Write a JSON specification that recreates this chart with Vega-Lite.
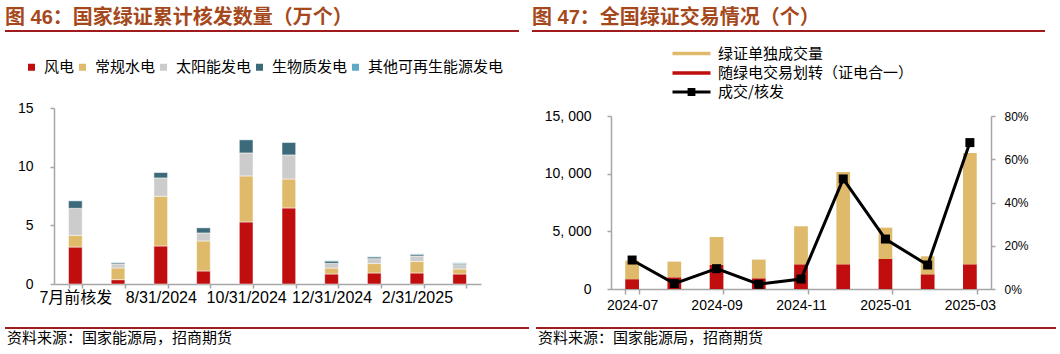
{
  "$schema": "https://vega.github.io/schema/vega-lite/v6.json",
  "padding": {"left": 5, "top": 7, "right": 0, "bottom": 0},
  "config": {
    "view": {"stroke": null},
    "axis": {"domainColor": "#A6A6A6", "tickColor": "#A6A6A6", "domainWidth": 1.5, "tickWidth": 1.5, "labelColor": "#000000", "labelFont": "Liberation Sans, Noto Sans CJK SC", "grid": false, "titleColor": "#000000"},
    "legend": {"labelFont": "Noto Sans CJK SC", "labelFontSize": 15, "labelColor": "#000000", "padding": 0, "labelLimit": 400}
  },
  "datasets": {
    "left": [
      {"date": "7月前核发", "type": "风电", "value": 3.15},
      {"date": "7月前核发", "type": "常规水电", "value": 1.0},
      {"date": "7月前核发", "type": "太阳能发电", "value": 2.3},
      {"date": "7月前核发", "type": "生物质发电", "value": 0.65},
      {"date": "7月前核发", "type": "其他可再生能源发电", "value": 0.02},
      {"date": "7/31/2024", "type": "风电", "value": 0.37},
      {"date": "7/31/2024", "type": "常规水电", "value": 1.0},
      {"date": "7/31/2024", "type": "太阳能发电", "value": 0.34},
      {"date": "7/31/2024", "type": "生物质发电", "value": 0.1},
      {"date": "7/31/2024", "type": "其他可再生能源发电", "value": 0.04},
      {"date": "8/31/2024", "type": "风电", "value": 3.24},
      {"date": "8/31/2024", "type": "常规水电", "value": 4.24},
      {"date": "8/31/2024", "type": "太阳能发电", "value": 1.56},
      {"date": "8/31/2024", "type": "生物质发电", "value": 0.48},
      {"date": "8/31/2024", "type": "其他可再生能源发电", "value": 0.02},
      {"date": "9/30/2024", "type": "风电", "value": 1.11},
      {"date": "9/30/2024", "type": "常规水电", "value": 2.56},
      {"date": "9/30/2024", "type": "太阳能发电", "value": 0.68},
      {"date": "9/30/2024", "type": "生物质发电", "value": 0.45},
      {"date": "9/30/2024", "type": "其他可再生能源发电", "value": 0.02},
      {"date": "10/31/2024", "type": "风电", "value": 5.29},
      {"date": "10/31/2024", "type": "常规水电", "value": 3.92},
      {"date": "10/31/2024", "type": "太阳能发电", "value": 1.96},
      {"date": "10/31/2024", "type": "生物质发电", "value": 1.13},
      {"date": "10/31/2024", "type": "其他可再生能源发电", "value": 0.02},
      {"date": "11/30/2024", "type": "风电", "value": 6.48},
      {"date": "11/30/2024", "type": "常规水电", "value": 2.47},
      {"date": "11/30/2024", "type": "太阳能发电", "value": 2.05},
      {"date": "11/30/2024", "type": "生物质发电", "value": 1.08},
      {"date": "11/30/2024", "type": "其他可再生能源发电", "value": 0.02},
      {"date": "12/31/2024", "type": "风电", "value": 0.85},
      {"date": "12/31/2024", "type": "常规水电", "value": 0.51},
      {"date": "12/31/2024", "type": "太阳能发电", "value": 0.4},
      {"date": "12/31/2024", "type": "生物质发电", "value": 0.2},
      {"date": "12/31/2024", "type": "其他可再生能源发电", "value": 0.03},
      {"date": "1/31/2025", "type": "风电", "value": 0.94},
      {"date": "1/31/2025", "type": "常规水电", "value": 0.8},
      {"date": "1/31/2025", "type": "太阳能发电", "value": 0.42},
      {"date": "1/31/2025", "type": "生物质发电", "value": 0.15},
      {"date": "1/31/2025", "type": "其他可再生能源发电", "value": 0.03},
      {"date": "2/31/2025", "type": "风电", "value": 0.94},
      {"date": "2/31/2025", "type": "常规水电", "value": 0.99},
      {"date": "2/31/2025", "type": "太阳能发电", "value": 0.46},
      {"date": "2/31/2025", "type": "生物质发电", "value": 0.15},
      {"date": "2/31/2025", "type": "其他可再生能源发电", "value": 0.03},
      {"date": "3/31/2025", "type": "风电", "value": 0.85},
      {"date": "3/31/2025", "type": "常规水电", "value": 0.43},
      {"date": "3/31/2025", "type": "太阳能发电", "value": 0.37},
      {"date": "3/31/2025", "type": "生物质发电", "value": 0.11},
      {"date": "3/31/2025", "type": "其他可再生能源发电", "value": 0.05}
    ],
    "rightBars": [
      {"month": "2024-07", "type": "随绿电交易划转（证电合一）", "value": 850},
      {"month": "2024-07", "type": "绿证单独成交量", "value": 1610},
      {"month": "2024-08", "type": "随绿电交易划转（证电合一）", "value": 1015},
      {"month": "2024-08", "type": "绿证单独成交量", "value": 1360},
      {"month": "2024-09", "type": "随绿电交易划转（证电合一）", "value": 2080},
      {"month": "2024-09", "type": "绿证单独成交量", "value": 2430},
      {"month": "2024-10", "type": "随绿电交易划转（证电合一）", "value": 930},
      {"month": "2024-10", "type": "绿证单独成交量", "value": 1620},
      {"month": "2024-11", "type": "随绿电交易划转（证电合一）", "value": 2140},
      {"month": "2024-11", "type": "绿证单独成交量", "value": 3300},
      {"month": "2024-12", "type": "随绿电交易划转（证电合一）", "value": 2140},
      {"month": "2024-12", "type": "绿证单独成交量", "value": 8005},
      {"month": "2025-01", "type": "随绿电交易划转（证电合一）", "value": 2600},
      {"month": "2025-01", "type": "绿证单独成交量", "value": 2720},
      {"month": "2025-02", "type": "随绿电交易划转（证电合一）", "value": 1275},
      {"month": "2025-02", "type": "绿证单独成交量", "value": 1560},
      {"month": "2025-03", "type": "随绿电交易划转（证电合一）", "value": 2140},
      {"month": "2025-03", "type": "绿证单独成交量", "value": 9650}
    ],
    "rightRatio": [
      {"month": "2024-07", "ratio": 0.134},
      {"month": "2024-08", "ratio": 0.025},
      {"month": "2024-09", "ratio": 0.094},
      {"month": "2024-10", "ratio": 0.022},
      {"month": "2024-11", "ratio": 0.046},
      {"month": "2024-12", "ratio": 0.509},
      {"month": "2025-01", "ratio": 0.231},
      {"month": "2025-02", "ratio": 0.111},
      {"month": "2025-03", "ratio": 0.677}
    ]
  },
  "spacing": 0,
  "resolve": {"scale": {"color": "independent"}, "legend": {"color": "independent"}},
  "vconcat": [
    {
      "spacing": 13,
      "hconcat": [
        {
          "data": {"values": [{}]},
          "width": 514, "height": 2,
          "view": {"fill": "#A01C1C", "stroke": null},
          "title": {"text": "图 46：国家绿证累计核发数量（万个）", "anchor": "start", "orient": "top", "offset": 2.3, "font": "Liberation Sans, Noto Sans CJK SC", "fontSize": 20, "fontWeight": "bold", "color": "#A5481C"},
          "mark": {"type": "point", "opacity": 0, "size": 0, "filled": true, "strokeWidth": 0},
          "encoding": {}
        },
        {
          "data": {"values": [{}]},
          "width": 513, "height": 2,
          "view": {"fill": "#A01C1C", "stroke": null},
          "title": {"text": "图 47：全国绿证交易情况（个）", "anchor": "start", "orient": "top", "offset": 2.3, "font": "Liberation Sans, Noto Sans CJK SC", "fontSize": 20, "fontWeight": "bold", "color": "#A5481C"},
          "mark": {"type": "point", "opacity": 0, "size": 0, "filled": true, "strokeWidth": 0},
          "encoding": {}
        }
      ]
    },
    {
      "spacing": 0,
      "resolve": {"scale": {"color": "independent"}, "legend": {"color": "independent"}},
      "hconcat": [
        {
          "data": {"values": [{}]},
          "width": 1, "height": 1,
          "mark": {"type": "point", "opacity": 0, "size": 0, "filled": true, "strokeWidth": 0},
          "encoding": {}
        },
        {
          "spacing": 0,
          "resolve": {"scale": {"color": "independent"}, "legend": {"color": "independent"}},
          "vconcat": [
            {
              "data": {"values": [{}]},
              "width": 1, "height": 1,
              "mark": {"type": "point", "opacity": 0, "size": 0, "filled": true, "strokeWidth": 0},
              "encoding": {}
            },
            {
              "data": {"name": "left"},
              "width": 427, "height": 176,
              "transform": [{"window": [{"op": "row_number", "as": "k"}], "groupby": ["date"]}],
              "mark": {"type": "bar", "stroke": "white", "strokeWidth": 0.5},
              "encoding": {
                "x": {"field": "date", "type": "nominal",
                  "sort": ["7月前核发", "7/31/2024", "8/31/2024", "9/30/2024", "10/31/2024", "11/30/2024", "12/31/2024", "1/31/2025", "2/31/2025", "3/31/2025"],
                  "scale": {"paddingInner": 0.68, "paddingOuter": 0.34},
                  "axis": {"title": " ", "titleFontSize": 10, "titleBaseline": "top", "titleAlign": "right", "titleX": 477, "titleY": 33, "labelAngle": 0, "labelFontSize": 16, "tickSize": 4, "labelPadding": 1, "tickBand": "extent", "labelOverlap": false,
                    "labelExpr": "indexof(['7月前核发','8/31/2024','10/31/2024','12/31/2024','2/31/2025'], datum.value) >= 0 ? datum.label : ''"}},
                "y": {"field": "value", "type": "quantitative", "stack": "zero", "scale": {"domain": [0, 15]},
                  "axis": {"values": [0, 5, 10, 15], "title": " ", "titleAngle": 0, "titleAlign": "left", "titleBaseline": "top", "titleX": -48, "titleY": -74.7, "titleFontSize": 10, "labelFontSize": 14, "tickSize": 4, "labelPadding": 17}},
                "color": {"field": "type", "type": "nominal",
                  "scale": {"domain": ["风电", "常规水电", "太阳能发电", "生物质发电", "其他可再生能源发电"], "range": ["#C00D0D", "#DFBA6A", "#CCCCCC", "#3D6A7B", "#5FAAC6"]},
                  "legend": {"orient": "none", "legendX": -30, "legendY": -48.5, "direction": "horizontal", "columns": 5, "title": null, "symbolType": "square", "symbolSize": 49, "symbolStrokeWidth": 0, "labelFontSize": 15, "labelOffset": 5, "columnPadding": -2}},
                "order": {"field": "k", "type": "quantitative"}
              }
            }
          ]
        },
        {
          "spacing": 0,
          "resolve": {"scale": {"color": "independent"}, "legend": {"color": "independent"}},
          "vconcat": [
            {
              "data": {"values": [{}]},
              "width": 1, "height": 1,
              "mark": {"type": "point", "opacity": 0, "size": 0, "filled": true, "strokeWidth": 0},
              "encoding": {}
            },
            {
              "width": 380, "height": 173,
              "encoding": {
                "x": {"field": "month", "type": "nominal",
                  "sort": ["2024-07", "2024-08", "2024-09", "2024-10", "2024-11", "2024-12", "2025-01", "2025-02", "2025-03"],
                  "scale": {"paddingInner": 0.675, "paddingOuter": 0.3375},
                  "axis": {"title": " ", "titleFontSize": 10, "titleBaseline": "top", "titleY": 28, "labelAngle": 0, "labelFontSize": 14, "tickSize": 5, "labelPadding": 4, "tickBand": "extent", "tickExtra": false, "labelOverlap": false,
                    "labelExpr": "indexof(['2024-07','2024-09','2024-11','2025-01','2025-03'], datum.value) >= 0 ? datum.label : ''",
                    "tickOpacity": {"condition": {"test": "indexof(['2024-08','2024-10','2024-12','2025-02'], datum.value) >= 0", "value": 0}, "value": 1}}}
              },
              "layer": [
                {
                  "data": {"name": "rightBars"},
                  "transform": [{"window": [{"op": "row_number", "as": "k"}], "groupby": ["month"]}],
                  "mark": {"type": "bar"},
                  "encoding": {
                    "y": {"field": "value", "type": "quantitative", "stack": "zero", "scale": {"domain": [0, 15000]},
                      "axis": {"values": [0, 5000, 10000, 15000], "labelExpr": "replace(format(datum.value, ','), ',', ', ')", "title": " ", "titleAngle": 0, "titleAlign": "left", "titleBaseline": "top", "titleX": -80, "titleY": -82.7, "titleFontSize": 10, "labelFontSize": 14, "tickSize": 4, "labelPadding": 16}},
                    "color": {"field": "type", "type": "nominal",
                      "scale": {"domain": ["绿证单独成交量", "随绿电交易划转（证电合一）"], "range": ["#DFBA6A", "#C00D0D"]},
                      "legend": {"orient": "none", "legendX": 73, "legendY": -70, "direction": "vertical", "title": null, "symbolType": "M-3.8,-0.35H3.8V0.35H-3.8Z", "symbolSize": 100, "symbolStrokeWidth": 0, "labelFontSize": 15, "labelOffset": 19, "rowPadding": 3.6}},
                    "order": {"field": "k", "type": "quantitative"}
                  }
                },
                {
                  "data": {"name": "rightRatio"},
                  "mark": {"type": "line", "strokeWidth": 3, "point": {"shape": "square", "size": 81, "filled": true}},
                  "encoding": {
                    "y": {"field": "ratio", "type": "quantitative", "scale": {"domain": [0, 0.8]},
                      "axis": {"orient": "right", "values": [0, 0.2, 0.4, 0.6, 0.8], "format": ".0%", "title": null, "labelFontSize": 12, "tickSize": 4, "labelPadding": 9}},
                    "color": {"datum": "成交/核发", "scale": {"range": ["#000000"]},
                      "legend": {"orient": "none", "legendX": 73, "legendY": -31.5, "title": null, "symbolType": "M-3.8,0H3.8M-0.48,-0.48H0.48V0.48H-0.48Z", "symbolSize": 100, "symbolStrokeWidth": 3, "symbolStrokeColor": "#000000", "symbolFillColor": "#000000", "labelFontSize": 15, "labelOffset": 19}}
                  }
                }
              ],
              "resolve": {"scale": {"y": "independent", "color": "independent"}}
            }
          ]
        }
      ]
    },
    {
      "spacing": 7,
      "hconcat": [
        {
          "data": {"values": [{}]},
          "width": 524, "height": 2,
          "view": {"fill": "#A01C1C", "stroke": null},
          "title": {"text": "资料来源：国家能源局，招商期货", "anchor": "start", "orient": "bottom", "offset": 1.5, "dx": 2, "font": "Noto Sans CJK SC", "fontSize": 15, "fontWeight": "normal", "color": "#000000"},
          "mark": {"type": "point", "opacity": 0, "size": 0, "filled": true, "strokeWidth": 0},
          "encoding": {}
        },
        {
          "data": {"values": [{}]},
          "width": 520, "height": 2,
          "view": {"fill": "#A01C1C", "stroke": null},
          "title": {"text": "资料来源：国家能源局，招商期货", "anchor": "start", "orient": "bottom", "offset": 1.5, "dx": 2, "font": "Noto Sans CJK SC", "fontSize": 15, "fontWeight": "normal", "color": "#000000"},
          "mark": {"type": "point", "opacity": 0, "size": 0, "filled": true, "strokeWidth": 0},
          "encoding": {}
        }
      ]
    }
  ]
}
